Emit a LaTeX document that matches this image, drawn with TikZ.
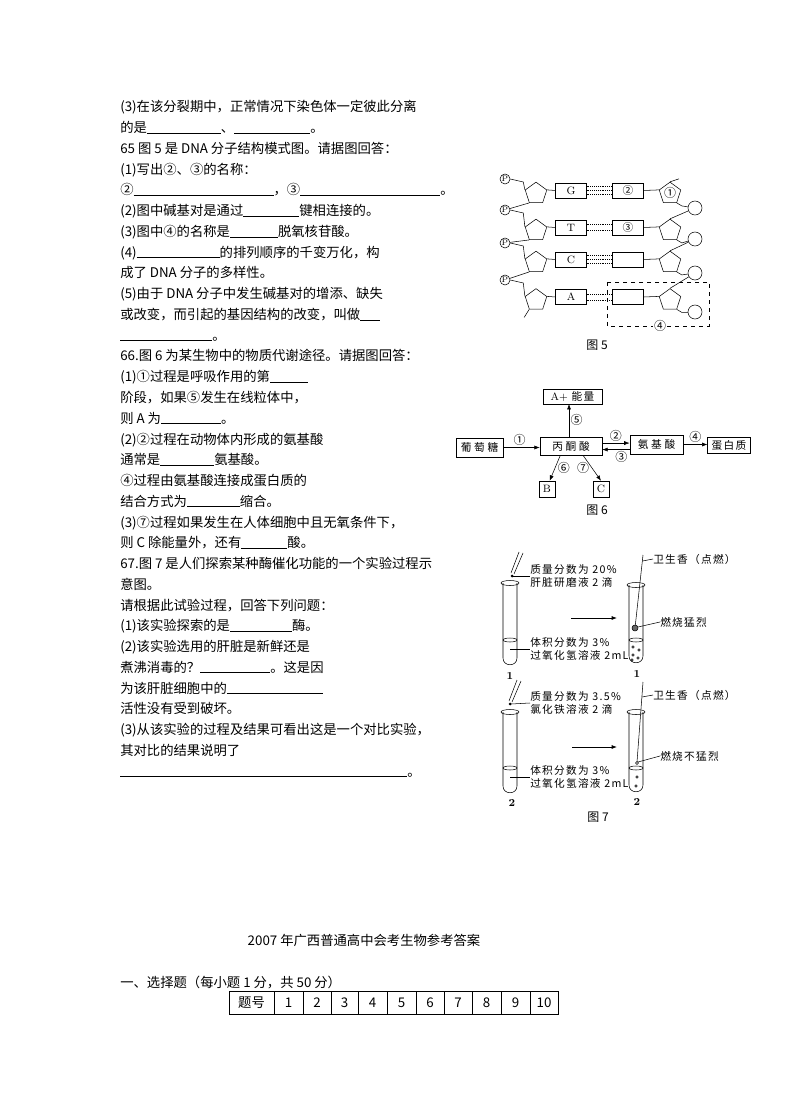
\documentclass[tikz,border=0pt]{standalone}
\usepackage{fontspec}
\newfontfamily\cjk{Noto Sans CJK SC}
\newfontfamily\cjkw{Noto Sans CJK SC}[LetterSpace=12]
\usetikzlibrary{arrows.meta,positioning,shapes.geometric}
\newdimen\pxu \pxu=0.75pt
\newcommand{\blank}[1]{\rule[-0.6pt]{#1\pxu}{0.5pt}}

\begin{document}
\begin{tikzpicture}[x=0.75pt, y=-0.75pt,
    >={Latex[length=4pt,width=3pt]},
    txt/.style={font=\cjk\fontsize{10pt}{12pt}\selectfont, anchor=west, inner sep=0pt, text height=8pt, text depth=2pt},
    notetxt/.style={font=\cjkw\fontsize{8pt}{9.5pt}\selectfont, align=left, anchor=west, inner sep=0pt},
    figcap/.style={font=\cjk\fontsize{9pt}{11pt}\selectfont, inner sep=0pt},
    tubenum/.style={font=\bfseries\fontsize{8pt}{9pt}\selectfont, inner sep=0pt},
    sugar/.style={draw, regular polygon, regular polygon sides=5, minimum size=17pt, inner sep=0pt},
    phos/.style={draw, circle, minimum size=7.5pt, inner sep=0pt, font=\fontsize{6pt}{6pt}\selectfont},
    nuc/.style={draw, minimum width=23pt, minimum height=11pt, inner sep=0pt, font=\fontsize{8pt}{8pt}\selectfont},
    ring/.style={draw, circle, minimum size=10.5pt, inner sep=0pt},
    mbox/.style={draw, inner sep=0pt, font=\cjkw\fontsize{8pt}{9pt}\selectfont},
    num/.style={font=\cjk\fontsize{9pt}{9pt}\selectfont, inner sep=1pt},
    hbond/.style={densely dotted},
    cell/.style={draw, minimum height=17pt, inner sep=0pt, font=\cjk\fontsize{10pt}{12pt}\selectfont}]
\useasboundingbox (0,0) rectangle (790,1119);

% questions, left column
\foreach \tline [count=\i] in {
  {(3)在该分裂期中，正常情况下染色体一定彼此分离},
  {的是\blank{74}、\blank{76}。},
  {65 图 5 是 DNA 分子结构模式图。请据图回答：},
  {(1)写出②、③的名称：},
  {②\blank{140}，③\blank{140}。},
  {(2)图中碱基对是通过\blank{56}键相连接的。},
  {(3)图中④的名称是\blank{48}脱氧核苷酸。},
  {(4)\blank{83}的排列顺序的千变万化，构},
  {成了 DNA 分子的多样性。},
  {(5)由于 DNA 分子中发生碱基对的增添、缺失},
  {或改变，而引起的基因结构的改变，叫做\blank{20}},
  {\blank{92}。},
  {66.图 6 为某生物中的物质代谢途径。请据图回答：},
  {(1)①过程是呼吸作用的第\blank{38}},
  {阶段，如果⑤发生在线粒体中，},
  {则 A 为\blank{60}。},
  {(2)②过程在动物体内形成的氨基酸},
  {通常是\blank{54}氨基酸。},
  {④过程由氨基酸连接成蛋白质的},
  {结合方式为\blank{53}缩合。},
  {(3)⑦过程如果发生在人体细胞中且无氧条件下，},
  {则 C 除能量外，还有\blank{46}酸。},
  {67.图 7 是人们探索某种酶催化功能的一个实验过程示},
  {意图。},
  {请根据此试验过程，回答下列问题：},
  {(1)该实验探索的是\blank{62}酶。},
  {(2)该实验选用的肝脏是新鲜还是},
  {煮沸消毒的？\blank{70}。这是因},
  {为该肝脏细胞中的\blank{96}},
  {活性没有受到破坏。},
  {(3)从该实验的过程及结果可看出这是一个对比实验，},
  {其对比的结果说明了},
  {\blank{287}。}}
  \node[txt] (line\i) at (120,{108+20.75*(\i-1)}) {\tline};

% figure 5: DNA
\foreach \y [count=\i] in {179,210,243,280}
  \node[phos] (p\i) at (505,\y) {P};
\foreach \y/\b [count=\i] in {190.5/G,227.5/T,259.5/C,297/A} {
  \node[sugar] (ls\i) at (536,{\y+3}) {};
  \node[nuc] (lb\i) at (571,\y) {\b};
}
\foreach \y/\n/\o [count=\i] in {190.5/{\cjk ②}/208,227.5/{\cjk ③}/239,259.5//273,297//312} {
  \node[nuc] (rb\i) at (628,\y) {\n};
  \node[sugar] (rs\i) at (670,{\y+3}) {};
  \node[ring] (o\i) at (695,\o) {};
}
\node[num] (n1) at (670,193) {①};
\foreach \i in {1,...,4} {
  \draw (p\i.east) -- ++(13,3) -- (ls\i.corner 2);
  \draw (ls\i.corner 5) -- (lb\i.west);
  \draw (rb\i.east) -- (rs\i.corner 2);
  \draw (rs\i.corner 4) -- ++(5,3) -- (o\i);
}
\foreach \i/\j in {1/2,2/3,3/4} {
  \draw (ls\i.corner 3) -- (p\j);
  \draw (rs\j.corner 1) -- (o\i);
}
\draw (ls4.corner 3) -- ++(-5,8);
\draw (rs1.corner 1) -- ++(9,-3);
\foreach \i in {1,3} \foreach \d in {-3,0,3}
  \draw[hbond] ([yshift=\d*1pt]lb\i.east) -- ([yshift=\d*1pt]rb\i.west);
\foreach \i in {2,4} \foreach \d in {-2.2,2.2}
  \draw[hbond] ([yshift=\d*1pt]lb\i.east) -- ([yshift=\d*1pt]rb\i.west);
\draw[dashed] (607,282) rectangle (709,326);
\node[num, fill=white] (n4) at (660,326) {④};
\node[figcap] (cap5) at (597,345) {图 5};

% figure 6: pathway
\node[mbox, minimum width=35pt, minimum height=14pt] (glu) at (479.5,447.5) {葡\kern2pt 萄\kern2pt 糖};
\node[mbox, minimum width=44pt, minimum height=11pt] (energy) at (572.5,396.5) {\normalfont A+ \cjkw 能\kern1pt 量};
\node[mbox, minimum width=46.5pt, minimum height=13.5pt] (pyr) at (571,446) {丙\kern2pt 酮\kern2pt 酸};
\node[mbox, minimum width=40pt, minimum height=14pt] (amino) at (656.5,444.5) {氨\kern2pt 基\kern2pt 酸};
\node[mbox, minimum width=32pt, minimum height=12pt] (prot) at (729,445) {蛋白质};
\node[mbox, minimum size=12pt, font=\fontsize{8pt}{8pt}\selectfont] (B) at (547,489) {B};
\node[mbox, minimum size=12pt, font=\fontsize{8pt}{8pt}\selectfont] (C) at (601,489) {C};
\draw[->] (glu.east) -- (glu.east -| pyr.west) node[num, pos=.45, above] {①};
\draw[->] ([xshift=-1.5pt]pyr.north) -- ([xshift=-1.5pt]pyr.north |- energy.south) node[num, midway, right] {⑤};
\draw[->] ([yshift=2.2pt]pyr.east) -- ([yshift=2.2pt]pyr.east -| amino.west) node[num, midway, above] {②};
\draw[->] ([yshift=-3.8pt]amino.west) -- ([yshift=-3.8pt]amino.west -| pyr.east) node[num, pos=.3, below] {③};
\draw[->] (amino.east) -- (amino.east -| prot.west) node[num, midway, above] {④};
\draw[->] ([xshift=-8pt]pyr.south) -- ([xshift=2pt]B.north) node[num, midway, right=1pt] {⑥};
\draw[->] ([xshift=9pt]pyr.south) -- (C.north) node[num, midway, left=1pt] {⑦};
\node[figcap] (cap6) at (597,510) {图 6};

% figure 7: test tubes
\foreach \x/\t/\b/\l in {510/583/665/640,636/585/663/640,510/712/793/768,636/712/792/768} {
  \draw (\x-7,\t) -- (\x-7,\b-7) .. controls (\x-7,\b+2) and (\x+7,\b+2) .. (\x+7,\b-7) -- (\x+7,\t);
  \draw (\x,\t) ellipse [x radius=9, y radius=2.5];
  \draw (\x,\l) ellipse [x radius=7, y radius=2];
}
\draw (511,573) -- (519,552) (514,574) -- (523,553);
\fill (512,576) circle [radius=1.5];
\node[notetxt] (d1) at (530,576) {质量分数为 20\%\\肝脏研磨液 2 滴};
\draw (513,576) -- (d1.west);
\node[notetxt] (h1) at (530,649) {体积分数为 3\%\\过氧化氢溶液 2mL};
\draw (510,649) -- (h1.west);
\draw (509,701) -- (517,680) (512,702) -- (521,681);
\fill (510,704) circle [radius=1.5];
\node[notetxt] (d2) at (530,703) {质量分数为 3.5\%\\氯化铁溶液 2 滴};
\draw (511,704) -- (d2.west);
\node[notetxt] (h2) at (530,777) {体积分数为 3\%\\过氧化氢溶液 2mL};
\draw (510,777) -- (h2.west);
\coordinate (a1) at (571,618); \coordinate (b1) at (617,618);
\coordinate (a2) at (572,747); \coordinate (b2) at (617,747);
\draw[->, semithick] (a1) -- (b1);
\draw[->, semithick] (a2) -- (b2);
% burning sticks
\draw (643,555) -- (635,628);
\draw[fill=black!60] (635,628) circle [radius=3];
\node[notetxt] (w1) at (653,559) {卫生香（点燃）};
\draw (642.5,561) -- (w1.west);
\node[notetxt] (f1) at (660,622) {燃烧猛烈};
\draw (638,627) -- (f1.west);
\foreach \p in {(633,647),(639,650),(633,655),(638,658),(632,660)}
  \draw \p circle [radius=1.2];
\draw (643,682) -- (637,762);
\draw (637,763) circle [radius=1.5];
\node[notetxt] (w2) at (653,695) {卫生香（点燃）};
\draw (642,697) -- (w2.west);
\node[notetxt] (f2) at (660,756) {燃烧不猛烈};
\draw (638,762) -- (f2.west);
\foreach \p in {(637,777),(636,786)}
  \draw \p circle [radius=1.2];
\node[tubenum] (t1) at (510,676) {1};
\node[tubenum] (t2) at (637,674) {1};
\node[tubenum] (t3) at (512,803) {2};
\node[tubenum] (t4) at (637,802) {2};
\node[figcap] (cap7) at (598,817) {图 7};

% answers
\node[txt, anchor=center] (title) at (364,941) {2007 年广西普通高中会考生物参考答案};
\node[txt] (sec1) at (120,983) {一、选择题（每小题 1 分，共 50 分）};
\foreach \l/\r/\t [count=\i] in {229/274/题号,274/303/1,303/331/2,331/358/3,358/387/4,387/416/5,416/444/6,444/472/7,472/501/8,501/530/9,530/558/10}
  \node[cell, minimum width={(\r-\l)*0.75pt}] (c\i) at ({(\l+\r)/2},1002.5) {\t};
\end{tikzpicture}
\end{document}
